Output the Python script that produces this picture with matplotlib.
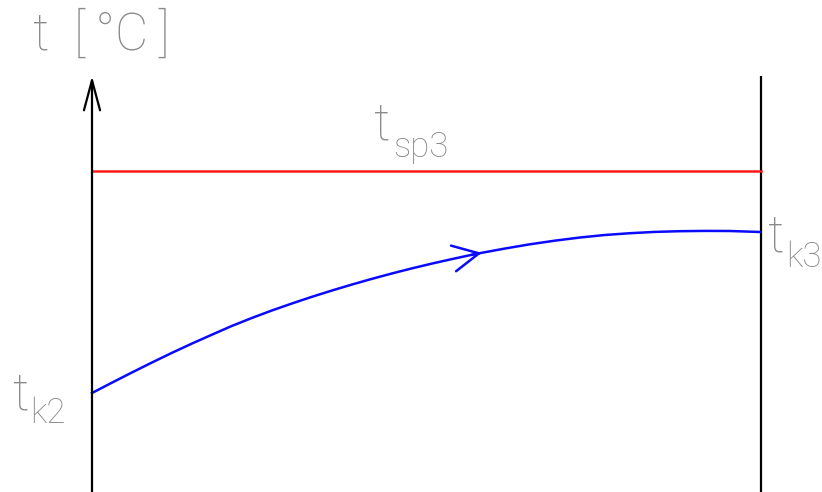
import numpy as np
from matplotlib import pyplot as plt

# ======================data======================
# position along the exchanger (0 = inlet side, 1 = outlet side)
pos = [0.000, 0.030, 0.060, 0.090, 0.120, 0.150, 0.180, 0.209, 0.239,
       0.269, 0.299, 0.329, 0.359, 0.389, 0.419, 0.449, 0.479, 0.509,
       0.539, 0.568, 0.583, 0.618, 0.655, 0.693, 0.730, 0.767, 0.805,
       0.842, 0.879, 0.917, 0.954, 1.000]
# cooling water temperature t_k along the exchanger
t_k = [9.90, 10.94, 11.96, 12.96, 13.93, 14.86, 15.75, 16.60, 17.40,
       18.15, 18.85, 19.52, 20.15, 20.75, 21.32, 21.86, 22.37, 22.85,
       23.30, 23.72, 23.92, 24.35, 24.77, 25.14, 25.45, 25.70, 25.88,
       26.01, 26.08, 26.11, 26.10, 26.00]
t_sp3 = 32.1       # condensing temperature (constant)
t_top = 41.6       # top of the axis lines
arrow_idx = 20     # point where the flow arrow sits

text_gray = '#8a8a8a'
font = ['Roboto', 'DejaVu Sans']

# ======================figure======================
fig = plt.figure(figsize=(8.22, 4.92), dpi=100)
ax = fig.add_axes([0, 0, 1, 1])
ax.set_xlim(-92 / 668.5, 730 / 668.5)
ax.set_ylim(0, 49.2)
ax.axis('off')

# left axis with arrow, right boundary line
ax.annotate('', xy=(0, t_top), xytext=(0, -1),
            arrowprops=dict(arrowstyle='->,head_length=2.16,head_width=0.58',
                            color='black', lw=1.6, shrinkA=0, shrinkB=0))
ax.plot([1, 1], [-1, t_top], color='black', lw=1.6, solid_capstyle='butt')

# condensing line
ax.plot([0, 1], [t_sp3, t_sp3], color='#ff1a1a', lw=1.8)

# cooling water curve
ax.plot(pos, t_k, color='#0a0aff', lw=1.8)
ax.annotate('', xy=(pos[arrow_idx], t_k[arrow_idx]),
            xytext=(pos[arrow_idx - 1], t_k[arrow_idx - 1]),
            arrowprops=dict(arrowstyle='->,head_length=1.87,head_width=0.94',
                            color='#0a0aff', lw=1.8, shrinkA=0, shrinkB=0))

# labels
def label(x, y, s, size):
    ax.text(x, y, s, fontsize=size, color=text_gray, family=font,
            fontweight='light', ha='left', va='baseline')

label(-0.088, 44.2, 't  [\u2009°C\u2009]', 37)
label(0.422, 35.2, 't', 37)
label(0.450, 33.5, 'sp3', 25)
label(-0.118, 8.2, 't', 37)
label(-0.093, 6.9, 'k2', 25)
label(1.011, 24.0, 't', 37)
label(1.038, 22.5, 'k3', 25)

fig.savefig('out.png', dpi=100)
